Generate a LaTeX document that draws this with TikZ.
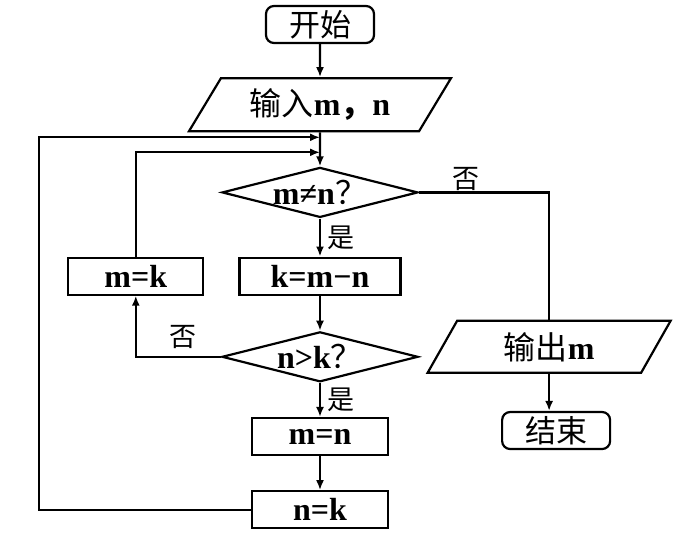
\documentclass[tikz,border=0pt]{standalone}
\usepackage{fontspec}
\setmainfont{Liberation Serif}
\newfontfamily\cjk{Noto Sans CJK SC}
\usetikzlibrary{arrows.meta,positioning,shapes.geometric}

\begin{document}
\begin{tikzpicture}[
    x=0.5pt, y=-0.5pt,
    node distance=17pt and 17pt,
    box/.style={rectangle, draw, line width=1.1pt, minimum width=68pt, minimum height=18.5pt, inner sep=0pt, font=\fontsize{16}{18}\selectfont\bfseries},
    term/.style={box, rounded corners=4pt, minimum width=54pt, font=\fontsize{15.5}{18}\selectfont\cjk},
    io/.style={trapezium, trapezium left angle=45, trapezium right angle=135, trapezium stretches body, draw, line width=1.1pt, minimum height=26.5pt, inner sep=0pt, font=\fontsize{16}{18}\selectfont\bfseries},
    decision/.style={diamond, shape aspect=4, draw, line width=1.1pt, minimum width=98pt, minimum height=25pt, inner sep=0pt, font=\fontsize{16}{18}\selectfont\bfseries},
    arrow/.style={-{Latex[length=5pt,width=4pt]}, line width=1.1pt},
    lbl/.style={font=\fontsize{13.5}{15}\selectfont\cjk}
]
\useasboundingbox (0,0) rectangle (698,537);
% main column
\node[term] (start) at (320,24.5) {开始};
\node[io, below=16.5pt of start, minimum width=131pt] (in) {{\cjk\mdseries 输入}m{\cjk ，}n};
\node[decision, below=17pt of in] (d1) {m≠n{\cjk\mdseries ？}};
\node[box, below=19pt of d1, minimum width=80.5pt] (k) {k=m−n};
\node[decision, below=17.5pt of k] (d2) {n>k{\cjk\mdseries ？}};
\node[box, below=17pt of d2] (mn) {m=n};
\node[box, below=17pt of mn] (nk) {n=k};
% side nodes
\node[box, left=17pt of k, minimum width=67.5pt] (mk) {m=k};
\node[io, right=11pt of d2, yshift=5pt, minimum width=121.5pt, minimum height=26pt] (out) {{\cjk\mdseries 输出}m};
\node[term, below=18.5pt of out, xshift=3.5pt] (end) {结束};
% junctions on the main line
\coordinate[below=2.5pt of in.south] (j1);
\coordinate[below=10pt of in.south] (j2);
\draw[arrow] (start) -- (in);
\draw[arrow] (in) -- (d1);
\draw[arrow] (d1) -- node[lbl, right] {是} (k);
\draw[arrow] (k) -- (d2);
\draw[arrow] (d2) -- node[lbl, right] {是} (mn);
\draw[arrow] (mn) -- (nk);
\draw[arrow] (d2.west) -| node[lbl, above, pos=0.22] {否} (mk.south);
\draw[arrow] (mk.north) |- (j2);
\draw[arrow] (nk.west) -- ++(-212,0) |- (j1);
\draw[line width=1.1pt] (d1.east) -| node[lbl, above, pos=0.18, yshift=-3pt] {否} (out.north);
\draw[arrow] (out.south) -- (out.south |- end.north);
\end{tikzpicture}
\end{document}
